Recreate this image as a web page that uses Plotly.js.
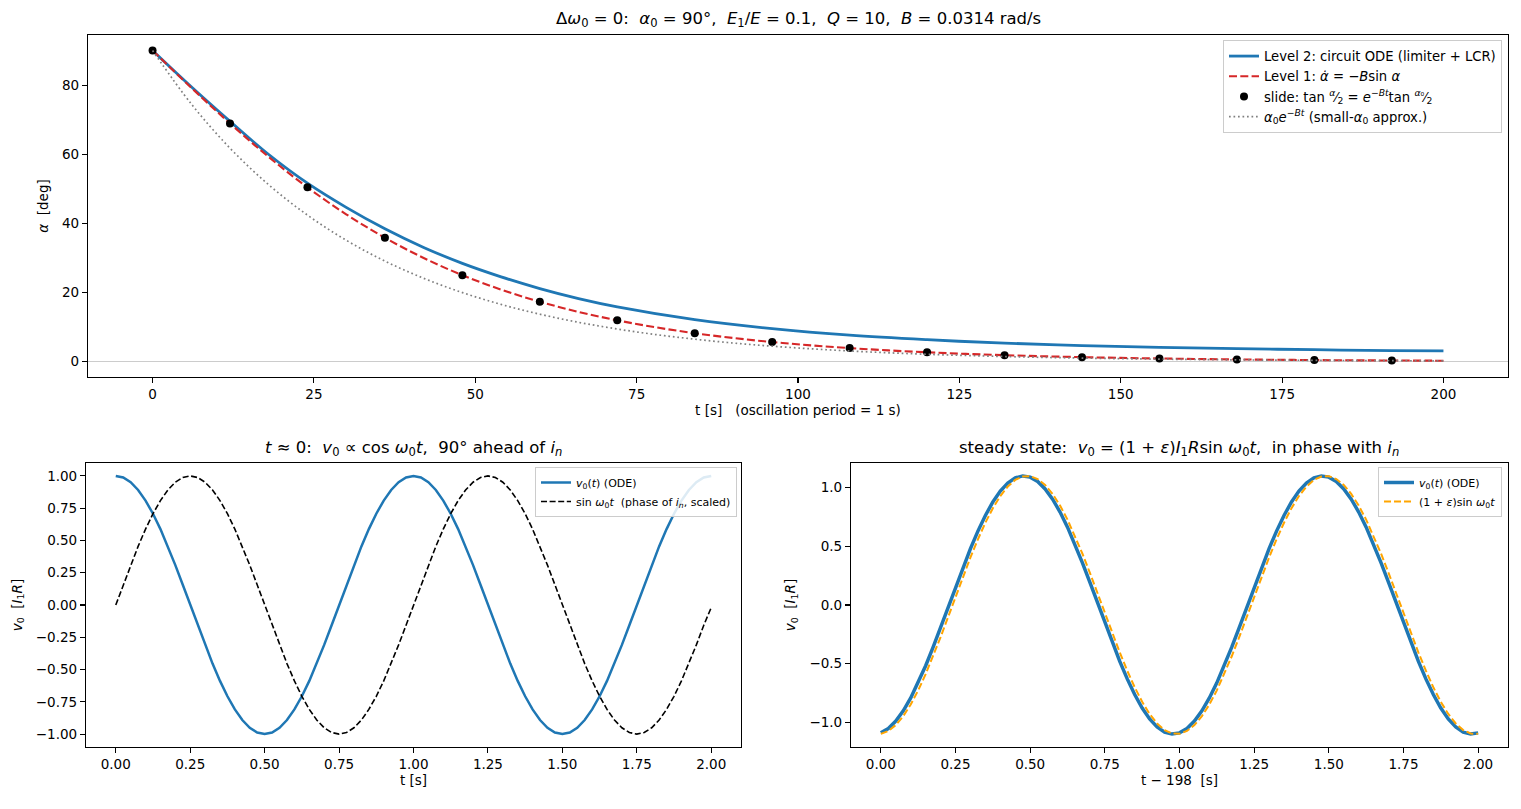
<!DOCTYPE html>
<html>
<head>
<meta charset="utf-8">
<script src="https://cdn.plot.ly/plotly-3.0.1.min.js"></script>
<style>html,body{margin:0;padding:0;background:#fff;}#chart{width:1521px;height:809px;}</style>
</head>
<body>
<div id="chart"></div>
<script>
// ---------- Top panel data ----------
const tDense = [0,6,12,18,24,30,36,42,48,54,60,66,72,78,84,90,96,102,108,114,120,126,132,138,144,150,156,162,168,174,180,186,192,198,200];
const level1 = [90,79.26,68.9,59.2,50.4,42.6,35.8,29.96,24.98,20.8,17.28,14.35,11.91,9.87,8.18,6.78,5.62,4.66,3.86,3.2,2.65,2.19,1.82,1.5,1.25,1.03,0.86,0.71,0.59,0.49,0.4,0.33,0.28,0.23,0.21];
const smallAngle = [90,74.55,61.75,51.14,42.36,35.09,29.06,24.08,19.94,16.51,13.68,11.33,9.39,7.77,6.44,5.33,4.42,3.66,3.03,2.51,2.08,1.72,1.43,1.18,0.98,0.81,0.67,0.56,0.46,0.38,0.32,0.26,0.22,0.18,0.17];
const tLevel2 = [0,6,12,18,24,30,36,42,48,54,60,66,72,84,96,108,120,132,144,156,168,180,192,200];
const level2 = [90,79.5,69.5,59.9,51.6,44.6,38.4,33.0,28.4,24.5,21.1,18.2,15.8,12.1,9.5,7.6,6.3,5.3,4.6,4.1,3.7,3.4,3.15,3.05];
const tSlide = [0,12,24,36,48,60,72,84,96,108,120,132,144,156,168,180,192];
const slideVals = [90,68.9,50.4,35.8,24.98,17.28,11.91,8.18,5.62,3.86,2.65,1.82,1.25,0.86,0.59,0.4,0.28];
const topXTicks = [0,25,50,75,100,125,150,175,200];
const topYTicks = [0,20,40,60,80];

// ---------- Bottom panels: shared time samples ----------
const tOsc = [0,0.025,0.05,0.075,0.1,0.125,0.15,0.175,0.2,0.225,0.25,0.275,0.3,0.325,0.35,0.375,0.4,0.425,0.45,0.475,0.5,0.525,0.55,0.575,0.6,0.625,0.65,0.675,0.7,0.725,0.75,0.775,0.8,0.825,0.85,0.875,0.9,0.925,0.95,0.975,1,1.025,1.05,1.075,1.1,1.125,1.15,1.175,1.2,1.225,1.25,1.275,1.3,1.325,1.35,1.375,1.4,1.425,1.45,1.475,1.5,1.525,1.55,1.575,1.6,1.625,1.65,1.675,1.7,1.725,1.75,1.775,1.8,1.825,1.85,1.875,1.9,1.925,1.95,1.975,2];

// ---------- Bottom-left data ----------
const v0Start = [1,0.9877,0.9511,0.891,0.809,0.7071,0.5878,0.454,0.309,0.1564,0,-0.1564,-0.309,-0.454,-0.5878,-0.7071,-0.809,-0.891,-0.9511,-0.9877,-1,-0.9877,-0.9511,-0.891,-0.809,-0.7071,-0.5878,-0.454,-0.309,-0.1564,0,0.1564,0.309,0.454,0.5878,0.7071,0.809,0.891,0.9511,0.9877,
                 1,0.9877,0.9511,0.891,0.809,0.7071,0.5878,0.454,0.309,0.1564,0,-0.1564,-0.309,-0.454,-0.5878,-0.7071,-0.809,-0.891,-0.9511,-0.9877,-1,-0.9877,-0.9511,-0.891,-0.809,-0.7071,-0.5878,-0.454,-0.309,-0.1564,0,0.1564,0.309,0.454,0.5878,0.7071,0.809,0.891,0.9511,0.9877,1];
const inPhase = [0,0.1564,0.309,0.454,0.5878,0.7071,0.809,0.891,0.9511,0.9877,1,0.9877,0.9511,0.891,0.809,0.7071,0.5878,0.454,0.309,0.1564,0,-0.1564,-0.309,-0.454,-0.5878,-0.7071,-0.809,-0.891,-0.9511,-0.9877,-1,-0.9877,-0.9511,-0.891,-0.809,-0.7071,-0.5878,-0.454,-0.309,-0.1564,
                 0,0.1564,0.309,0.454,0.5878,0.7071,0.809,0.891,0.9511,0.9877,1,0.9877,0.9511,0.891,0.809,0.7071,0.5878,0.454,0.309,0.1564,0,-0.1564,-0.309,-0.454,-0.5878,-0.7071,-0.809,-0.891,-0.9511,-0.9877,-1,-0.9877,-0.9511,-0.891,-0.809,-0.7071,-0.5878,-0.454,-0.309,-0.1564,-0.02];
const oscXTicks = [0,0.25,0.5,0.75,1,1.25,1.5,1.75,2];
const blYTicks = [-1,-0.75,-0.5,-0.25,0,0.25,0.5,0.75,1];

// ---------- Bottom-right data ----------
const v0Steady = [-1.0895,-1.0524,-0.9893,-0.902,-0.7923,-0.6632,-0.5178,-0.3596,-0.1925,-0.0207,0.1516,0.3201,0.4808,0.6296,0.7631,0.8776,0.9705,1.0395,1.0831,1.0998,1.0895,1.0524,0.9893,0.902,0.7923,0.6632,0.5178,0.3596,0.1925,0.0207,-0.1516,-0.3201,-0.4808,-0.6296,-0.7631,-0.8776,-0.9705,-1.0395,-1.0831,-1.0998,
                  -1.0895,-1.0524,-0.9893,-0.902,-0.7923,-0.6632,-0.5178,-0.3596,-0.1925,-0.0207,0.1516,0.3201,0.4808,0.6296,0.7631,0.8776,0.9705,1.0395,1.0831,1.0998,1.0895,1.0524,0.9893,0.902,0.7923,0.6632,0.5178,0.3596,0.1925,0.0207,-0.1516,-0.3201,-0.4808,-0.6296,-0.7631,-0.8776,-0.9705,-1.0395,-1.0831,-1.0998,-1.0895];
const drive = [-1.0978,-1.0735,-1.0228,-0.9468,-0.8476,-0.7274,-0.5894,-0.4368,-0.2736,-0.1035,0.0691,0.2399,0.4049,0.5599,0.7011,0.8251,0.9287,1.0096,1.0655,1.0952,1.0978,1.0735,1.0228,0.9468,0.8476,0.7274,0.5894,0.4368,0.2736,0.1035,-0.0691,-0.2399,-0.4049,-0.5599,-0.7011,-0.8251,-0.9287,-1.0096,-1.0655,-1.0952,
               -1.0978,-1.0735,-1.0228,-0.9468,-0.8476,-0.7274,-0.5894,-0.4368,-0.2736,-0.1035,0.0691,0.2399,0.4049,0.5599,0.7011,0.8251,0.9287,1.0096,1.0655,1.0952,1.0978,1.0735,1.0228,0.9468,0.8476,0.7274,0.5894,0.4368,0.2736,0.1035,-0.0691,-0.2399,-0.4049,-0.5599,-0.7011,-0.8251,-0.9287,-1.0096,-1.0655,-1.0952,-1.0978];
const brYTicks = [-1,-0.5,0,0.5,1];

const FONT = 'DejaVu Sans, Liberation Sans, sans-serif';
const S = '\u00a0';

const traces = [
  {x: tLevel2, y: level2, xaxis:'x', yaxis:'y', mode:'lines', line:{color:'#1f77b4', width:2.8, shape:'spline'},
   name:'Level 2: circuit ODE (limiter + LCR)', legend:'legend'},
  {x: tDense, y: level1, xaxis:'x', yaxis:'y', mode:'lines', line:{color:'#d62728', width:2.1, dash:'8px,3.3px', shape:'spline'},
   name:'Level 1: <i>α̇</i> = −<i>B</i>sin' + S + '<i>α</i>', legend:'legend'},
  {x: tSlide, y: slideVals, xaxis:'x', yaxis:'y', mode:'markers', marker:{color:'#000', size:8},
   name:'slide: tan' + S + '<sup><i>α</i></sup>⁄<sub>2</sub> = <i>e</i><sup>−<i>Bt</i></sup>tan' + S + '<sup><i>α</i>₀</sup>⁄<sub>2</sub>', legend:'legend'},
  {x: tDense, y: smallAngle, xaxis:'x', yaxis:'y', mode:'lines', line:{color:'#808080', width:1.7, dash:'1.7px,2.8px', shape:'spline'},
   name:'<i>α</i><sub>0</sub><i>e</i><sup>−<i>Bt</i></sup> (small-<i>α</i><sub>0</sub> approx.)', legend:'legend'},

  {x: tOsc, y: v0Start, xaxis:'x2', yaxis:'y2', mode:'lines', line:{color:'#1f77b4', width:2.5},
   name:'<i>v</i><sub>0</sub>(<i>t</i>) (ODE)', legend:'legend2'},
  {x: tOsc, y: inPhase, xaxis:'x2', yaxis:'y2', mode:'lines', line:{color:'#000', width:1.6, dash:'6px,2.6px'},
   name:'sin' + S + '<i>ω</i><sub>0</sub><i>t</i>' + S + S + '(phase of <i>i<sub>n</sub></i>, scaled)', legend:'legend2'},

  {x: tOsc, y: v0Steady, xaxis:'x3', yaxis:'y3', mode:'lines', line:{color:'#1f77b4', width:3.5},
   name:'<i>v</i><sub>0</sub>(<i>t</i>) (ODE)', legend:'legend3'},
  {x: tOsc, y: drive, xaxis:'x3', yaxis:'y3', mode:'lines', line:{color:'#ffa500', width:2, dash:'7px,3px'},
   name:'(1 + <i>ε</i>)sin' + S + '<i>ω</i><sub>0</sub><i>t</i>', legend:'legend3'}
];

function ax(extra){
  return Object.assign({
    showline:true, mirror:true, linecolor:'#000', linewidth:1.1,
    ticks:'outside', ticklen:5, tickwidth:1.1, tickcolor:'#000',
    showgrid:false, zeroline:false, tickfont:{family:FONT, size:13.5, color:'#000'},
    tickmode:'array'
  }, extra);
}
const W = 1521, H = 809;
const fx = p => p / W;
const fy = p => 1 - p / H;

const layout = {
  width: W, height: H,
  margin:{l:0,r:0,t:0,b:0},
  paper_bgcolor:'#fff', plot_bgcolor:'#fff',
  font:{family:FONT, color:'#000', size:13.5},
  showlegend:true,
  xaxis: ax({domain:[fx(88), fx(1508)], range:[-10,210], anchor:'y', tickvals: topXTicks, ticktext: topXTicks.map(String),
    title:{text:'t [s]' + S + S + S + '(oscillation period = 1 s)', font:{family:FONT,size:13.5}, standoff:4}}),
  yaxis: ax({domain:[fy(377), fy(35)], range:[-4.5,94.5], anchor:'x', tickvals: topYTicks, ticktext: topYTicks.map(String),
    title:{text:'<i>α</i>' + S + S + '[deg]', font:{family:FONT,size:13.5}, standoff:10}}),
  xaxis2: ax({domain:[fx(86), fx(741)], range:[-0.1,2.1], anchor:'y2', tickvals: oscXTicks, ticktext: oscXTicks.map(v=>v.toFixed(2)),
    title:{text:'t [s]', font:{family:FONT,size:13.5}, standoff:4}}),
  yaxis2: ax({domain:[fy(747), fy(463)], range:[-1.1,1.1], anchor:'x2', tickvals: blYTicks, ticktext: blYTicks.map(v=>v.toFixed(2).replace('-','−')),
    title:{text:'<i>v</i><sub>0</sub>' + S + S + '[<i>I</i><sub>1</sub><i>R</i>]', font:{family:FONT,size:13.5}, standoff:10}}),
  xaxis3: ax({domain:[fx(851), fx(1508)], range:[-0.1,2.1], anchor:'y3', tickvals: oscXTicks, ticktext: oscXTicks.map(v=>v.toFixed(2)),
    title:{text:'t − 198' + S + S + '[s]', font:{family:FONT,size:13.5}, standoff:4}}),
  yaxis3: ax({domain:[fy(747), fy(463)], range:[-1.21,1.21], anchor:'x3', tickvals: brYTicks, ticktext: brYTicks.map(v=>v.toFixed(1).replace('-','−')),
    title:{text:'<i>v</i><sub>0</sub>' + S + S + '[<i>I</i><sub>1</sub><i>R</i>]', font:{family:FONT,size:13.5}, standoff:10}}),
  legend:{x:fx(1502), y:fy(40), xanchor:'right', yanchor:'top', bgcolor:'rgba(255,255,255,0.85)', bordercolor:'#cccccc', borderwidth:1,
    font:{family:FONT,size:13.2,color:'#000'}, tracegroupgap:0},
  legend2:{x:fx(737), y:fy(467), xanchor:'right', yanchor:'top', bgcolor:'rgba(255,255,255,0.85)', bordercolor:'#cccccc', borderwidth:1,
    font:{family:FONT,size:11,color:'#000'}},
  legend3:{x:fx(1502), y:fy(467), xanchor:'right', yanchor:'top', bgcolor:'rgba(255,255,255,0.85)', bordercolor:'#cccccc', borderwidth:1,
    font:{family:FONT,size:11,color:'#000'}},
  shapes:[
    {type:'line', xref:'x domain', yref:'y', x0:0, x1:1, y0:0, y1:0, line:{color:'#cccccc', width:1.1}, layer:'below'}
  ],
  annotations:[
    {text:'Δ<i>ω</i><sub>0</sub> = 0:' + S + S + '<i>α</i><sub>0</sub> = 90°,' + S + S + '<i>E</i><sub>1</sub>/<i>E</i> = 0.1,' + S + S + '<i>Q</i> = 10,' + S + S + '<i>B</i> = 0.0314 rad/s',
     xref:'paper', yref:'paper', x:fx(798), y:fy(19), xanchor:'center', yanchor:'middle', showarrow:false, font:{family:FONT,size:16.5}},
    {text:'<i>t</i> ≈ 0:' + S + S + '<i>v</i><sub>0</sub> ∝ cos' + S + '<i>ω</i><sub>0</sub><i>t</i>,' + S + S + '90° ahead of <i>i<sub>n</sub></i>',
     xref:'paper', yref:'paper', x:fx(413), y:fy(448), xanchor:'center', yanchor:'middle', showarrow:false, font:{family:FONT,size:16.5}},
    {text:'steady state:' + S + S + '<i>v</i><sub>0</sub> = (1 + <i>ε</i>)<i>I</i><sub>1</sub><i>R</i>sin' + S + '<i>ω</i><sub>0</sub><i>t</i>,' + S + S + 'in phase with <i>i<sub>n</sub></i>',
     xref:'paper', yref:'paper', x:fx(1179), y:fy(448), xanchor:'center', yanchor:'middle', showarrow:false, font:{family:FONT,size:16.5}}
  ]
};

Plotly.newPlot('chart', traces, layout, {staticPlot:true, displayModeBar:false});
</script>
</body>
</html>
